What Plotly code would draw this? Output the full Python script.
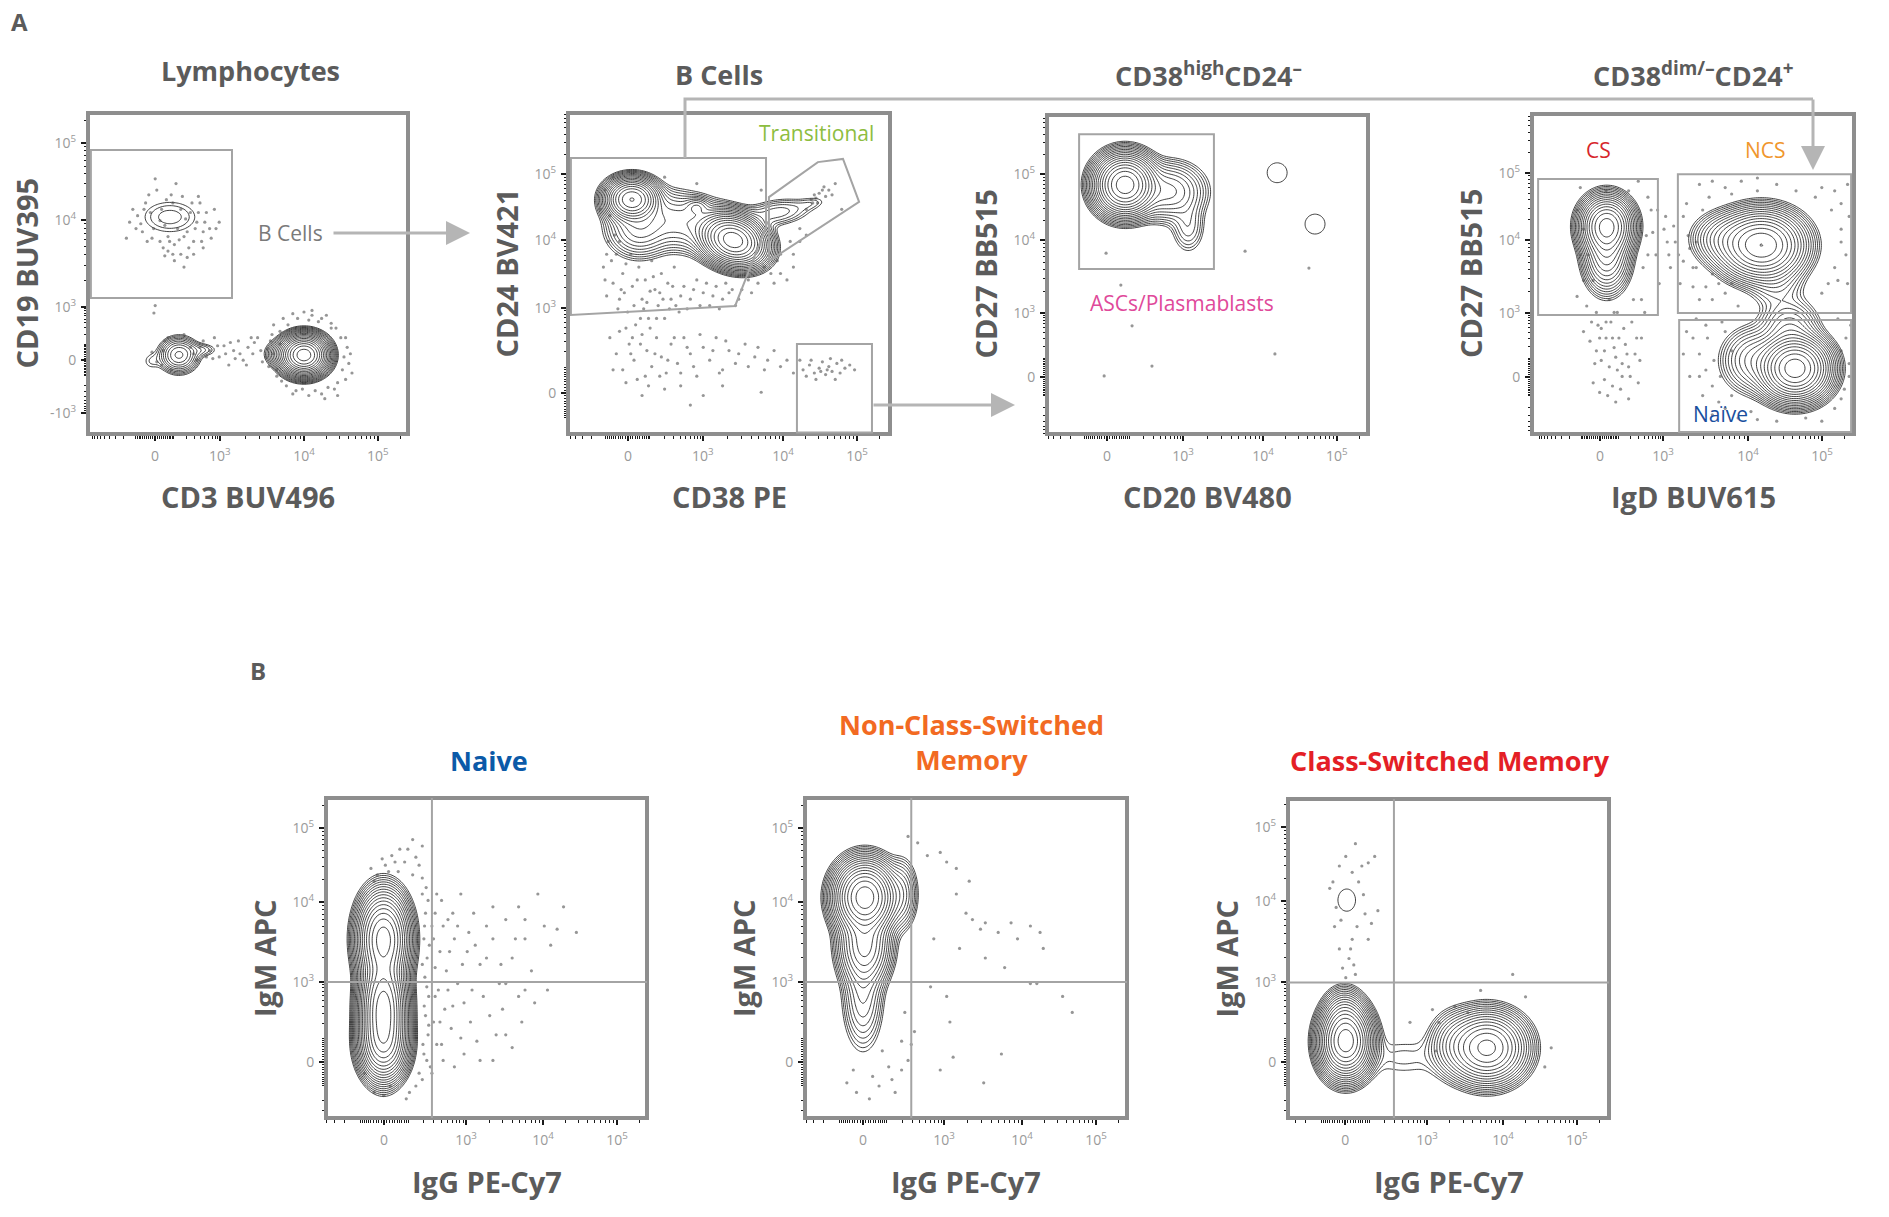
import numpy as np
import plotly.graph_objects as go

W, H = 1889, 1217

# ---------------- data (all in display channels 0..1000 of each axis) ----------------
TICK_LABELS = ["0", "10<sup>3</sup>", "10<sup>4</sup>", "10<sup>5</sup>"]
TICK_LABELS_NEG = ["-10<sup>3</sup>", "0", "10<sup>3</sup>", "10<sup>4</sup>", "10<sup>5</sup>"]

A1_X_TICKS = [209, 412, 675, 906]
A1_Y_TICKS = [65, 231, 396, 667, 906]
A2_X_TICKS = [186, 419, 668, 898]
A2_Y_TICKS = [128, 393, 604, 810]
A3_X_TICKS = [187, 424, 673, 903]
A3_Y_TICKS = [179, 379, 608, 815]
A4_X_TICKS = [211, 407, 671, 901]
A4_Y_TICKS = [178, 378, 606, 816]
B1_X_TICKS = [181, 436, 676, 907]
B1_Y_TICKS = [175, 425, 675, 906]
B2_X_TICKS = [180, 432, 674, 904]
B2_Y_TICKS = [175, 425, 675, 906]
B3_X_TICKS = [178, 433, 670, 900]
B3_Y_TICKS = [176, 426, 680, 912]

# populations: (center x, center y, spread x, spread y, correlation, relative peak density)
A1_POPS = [(675, 246, 33, 28, 0.0, 1.0), (610, 250, 30, 22, 0.0, 0.03),
           (284, 246, 30, 27, 0.0, 0.08), (355, 262, 30, 13, 0.0, 0.012),
           (197, 227, 20, 20, 0.0, 0.0066), (256, 676, 63, 37, 0.0, 0.0107)]
A2_POPS = [(198, 731, 37, 30, 0.0, 0.6), (513, 604, 45, 36, -0.2, 1.0),
           (360, 660, 90, 50, -0.3, 0.05), (400, 708, 20, 15, 0.0, 0.035),
           (220, 640, 50, 45, 0.0, 0.06), (650, 690, 60, 25, 0.3, 0.02),
           (760, 720, 30, 14, 0.3, 0.006)]
A3_POPS = [(243, 781, 42, 42, 0.0, 1.0), (380, 760, 55, 45, 0.0, 0.08),
           (440, 650, 28, 45, 0.0, 0.02), (717, 819, 42, 42, 0.0, 0.0066),
           (835, 658, 42, 42, 0.0, 0.0066)]
A4_POPS = [(232, 650, 37, 42, 0.0, 0.5), (232, 560, 34, 55, 0.0, 0.15),
           (713, 590, 60, 48, 0.0, 0.6), (600, 610, 50, 40, 0.0, 0.06),
           (760, 470, 45, 45, 0.0, 0.02), (800, 330, 45, 45, 0.0, 0.05),
           (817, 205, 48, 44, 0.0, 1.0), (690, 230, 50, 50, 0.0, 0.06)]
B1_POPS = [(179, 560, 36, 65, 0.0, 0.7), (179, 340, 32, 80, 0.0, 1.0),
           (179, 230, 34, 50, 0.0, 0.4)]
B2_POPS = [(186, 690, 42, 50, 0.0, 1.0), (185, 540, 38, 60, 0.0, 0.2),
           (180, 380, 32, 85, 0.0, 0.04), (300, 700, 25, 55, 0.0, 0.04)]
B3_POPS = [(180, 240, 36, 50, 0.0, 1.0), (175, 320, 30, 40, 0.0, 0.1),
           (620, 220, 55, 50, 0.0, 0.5), (520, 230, 40, 50, 0.0, 0.05),
           (360, 190, 90, 45, 0.0, 0.0075), (183, 683, 37, 47, 0.0, 0.0066)]

# individual events drawn as dots
A1_EVENTS = [(140,700),(165,655),(180,720),(195,690),(205,640),(215,760),(225,600),(230,700),(240,650),
             (250,615),(260,745),(270,590),(280,640),(290,700),(300,615),(305,670),(315,580),(325,720),
             (335,640),(345,690),(355,600),(365,660),(380,640),(395,700),(410,660),(270,540),(290,560),
             (250,570),(300,520),(120,610),(210,795),(275,780),(185,600),(345,740),(225,665),
             (155,680),(170,630),(190,745),(200,610),(235,580),(245,730),(255,600),(265,720),(285,605),
             (295,740),(310,630),(320,690),(330,600),(340,660),(350,720),(360,630),(370,690),(385,610),
             (400,640),(175,700),(265,560),(240,555),(310,550),(330,560),(360,580),(150,640),(130,660),
             (200,255),(215,225),(240,290),(320,270),(340,230),(360,290),(380,260),(395,300),(410,240),
             (425,275),(440,215),(455,260),(470,290),(485,230),(500,270),(515,250),(530,300),(545,225),
             (560,265),(575,310),(590,200),(600,280),(330,250),(390,235),(430,250),(460,235),(520,285),
             (350,270),(370,240),(405,275),(445,285),(475,250),(495,215),(510,300),(540,260),(555,240),
             (230,215),(250,300),(260,200),(300,310),(235,260),
             (580,340),(610,360),(640,375),(700,370),(730,360),(760,345),(790,300),(800,240),(795,200),
             (780,160),(750,145),(710,135),(670,140),(620,150),(590,180),(565,210),(780,120),(640,125),
             (720,350),(810,270),(206,377),(210,400),(675,380),(760,330),(600,320),(625,340),(655,360),
             (690,355),(745,370),(775,330),(805,300),(815,220),(805,170),(770,140),(730,125),(690,120),
             (650,135),(605,165),(580,250),(570,290),(820,250),(825,190),(700,385),(740,110)]
A2_EVENTS = [(110,520),(125,600),(140,470),(150,560),(160,420),(170,500),(185,380),(195,560),(200,460),
             (210,340),(220,520),(230,420),(240,480),(250,360),(260,540),(270,450),(280,400),(290,500),
             (300,360),(310,470),(320,420),(330,520),(345,380),(360,460),(380,420),(400,480),(420,440),
             (440,400),(460,460),(480,420),(500,440),(520,400),(540,450),(560,480),(130,680),(115,760),
             (140,800),(190,820),(300,800),(400,780),(600,760),(120,430),(165,450),(235,390),(255,445),
             (115,480),(135,540),(145,620),(155,390),(175,440),(180,530),(205,400),(215,480),(225,360),
             (245,410),(265,490),(275,360),(285,440),(295,420),(315,390),(325,460),(335,400),(350,430),
             (370,390),(390,450),(410,400),(430,470),(450,430),(470,390),(490,470),(510,450),(530,420),
             (550,500),(570,440),(590,470),(610,520),(630,500),(650,540),(120,560),(160,600),(100,700),
             (130,300),(150,250),(170,200),(190,280),(205,230),(215,170),(230,310),(245,260),(260,210),
             (275,300),(290,240),(305,190),(320,280),(340,220),(360,300),(380,250),(400,180),(420,270),
             (440,230),(460,300),(480,200),(500,260),(520,220),(550,280),(580,240),(610,200),(640,260),
             (680,230),(700,190),(230,120),(300,140),(420,120),(600,130),(380,90),(180,330),(200,300),
             (160,320),(195,250),(225,280),(240,180),(255,330),(270,250),(285,180),(310,230),(330,300),
             (350,190),(370,270),(390,210),(410,310),(450,260),(470,190),(490,290),(530,250),(560,210),
             (590,270),(620,230),(660,210),(720,230),(140,200),(180,160),(250,150),(350,150),(480,150),
             (730,200),(750,215),(765,190),(780,205),(790,225),(800,185),(810,210),(820,195),(835,220),
             (845,190),(860,205),(875,215),(890,200),(770,170),(830,170),(740,180),(785,195),(815,235),
             (850,230),(805,200),(755,230),
             (660,560),(690,600),(720,640),(740,700),(755,730),(765,745),(775,720),(790,760),(800,740),
             (820,745),(850,700),(700,520),(680,480),(640,470),(770,735),(780,750),(760,720),(795,770),
             (810,760),(830,780),(700,560),(720,600),(740,620),(660,500)]
A3_EVENTS = [(184,567),(617,573),(816,520),(230,467),(265,339),(710,251),(327,213),(178,182)]
A4_EVENTS = [(140,700),(160,640),(175,560),(190,480),(200,380),(210,300),(215,230),(225,170),(235,120),
             (245,350),(255,270),(265,200),(275,140),(285,330),(295,250),(305,180),(315,420),(325,300),
             (335,230),(345,520),(355,620),(370,700),(385,560),(395,470),(410,640),(180,290),(195,220),
             (240,420),(260,100),(300,110),(330,160),(350,380),(160,320),(230,760),(300,760),(140,430),
             (205,340),(250,300),(280,220),(310,350),(225,260),(265,380),(170,400),(185,350),(200,260),
             (215,330),(230,300),(240,210),(255,380),(270,300),(290,280),(300,210),(320,250),(340,300),
             (190,160),(210,130),(250,150),(280,180),(230,350),(260,240),(150,560),(160,480),(340,420),
             (360,560),(375,630),(390,700),(150,770),(330,790),(360,740),
             (420,600),(440,650),(455,560),(470,680),(485,620),(500,520),(510,600),(430,520),(460,470),
             (425,560),(445,600),(470,540),(490,580),(415,680),(480,720),
             (520,780),(560,790),(600,770),(650,790),(700,760),(760,780),(820,760),(880,740),(930,700),
             (960,640),(975,560),(950,480),(900,440),(560,500),(520,420),(600,440),(640,400),(540,460),
             (980,780),(700,800),(530,700),(550,740),(620,750),(900,770),(940,760),(960,720),(985,680),
             (960,600),(940,520),(920,470),(980,470),(580,470),(620,470),(560,420),(500,460),(510,520),
             (500,300),(520,250),(540,200),(560,150),(580,100),(600,320),(620,260),(530,120),(560,60),
             (640,50),(700,45),(760,40),(850,50),(940,80),(970,140),(985,220),(975,300),(950,360),
             (510,360),(490,180),(470,250),(480,320),(520,180),(545,300),(565,230),(585,180),(600,80),
             (620,120),(680,70),(900,40),(960,110),(985,180),(960,260),(990,340),(540,340),(590,350)]
B1_EVENTS = [(160,760),(185,790),(205,820),(225,770),(245,800),(270,760),(290,790),(300,850),(230,840),
             (140,780),(175,810),(215,800),(255,840),(280,815),(195,770),(150,740),(270,870),
             (300,700),(310,640),(305,560),(315,500),(308,440),(320,380),(310,320),(318,260),(305,200),
             (325,160),(300,120),(330,600),(340,470),(335,300),(345,700),(300,750),(312,720),(318,680),
             (307,600),(322,540),(300,480),(314,410),(306,350),(320,290),(302,230),(314,180),(330,140),
             (280,100),(260,80),(290,140),(340,380),(340,640),(335,560),(345,230),
             (360,680),(380,620),(400,560),(420,700),(440,520),(460,640),(480,480),(500,600),(520,560),
             (540,420),(560,620),(580,500),(600,660),(620,560),(640,460),(660,700),(700,540),(720,590),
             (780,580),(350,400),(370,340),(390,280),(410,420),(430,360),(450,300),(470,240),(490,380),
             (510,320),(530,260),(550,340),(580,220),(610,300),(650,360),(690,400),(430,200),(360,230),
             (400,160),(480,180),(560,420),(600,380),(150,80),(180,70),(200,100),(250,60),(120,140),
             (355,520),(365,600),(375,460),(385,520),(395,640),(410,600),(425,480),(445,580),(465,540),
             (355,300),(365,180),(380,400),(395,350),(420,250),(455,400),(500,500),(520,660),(545,480),
             (590,560),(620,620),(680,600),(740,660),(560,260),(520,180),(620,400)]
B2_EVENTS = [(380,820),(420,830),(440,800),(470,780),(510,740),(470,700),(500,640),(520,620),(545,590),
             (560,610),(600,580),(640,610),(660,560),(700,600),(730,580),(740,530),(480,530),(560,500),
             (620,470),(700,420),(720,420),(800,380),(830,330),(400,560),(390,410),(440,380),(450,300),
             (420,150),(460,190),(610,200),(555,110),(130,110),(160,80),(200,60),(230,100),(270,120),
             (300,150),(320,180),(280,80),(240,210),(330,230),(310,330),(340,270),(300,240),(260,160),
             (210,130),(150,150),(320,880),(350,860)]
B3_EVENTS = [(140,740),(160,790),(180,820),(200,770),(210,860),(230,790),(250,800),(270,820),(150,660),
             (165,620),(200,560),(215,600),(240,640),(260,610),(280,650),(190,500),(170,470),(205,480),
             (180,440),(130,720),(145,600),(220,740),(235,700),(160,530),(195,530),(250,560),(210,450),
             (450,340),(470,300),(520,350),(560,330),(700,450),(460,210),(820,220),(800,160),(380,300),
             (600,400),(740,380)]

# gates (channel coordinates)
A1_GATE = [(9, 885), (450, 885), (450, 424), (9, 424)]
A2_GATE_MAIN = [(9, 860), (615, 860), (615, 645), (519, 399), (9, 371)]
A2_GATE_TRANS = [(624, 539), (624, 738), (776, 847), (854, 857), (904, 723)]
A2_GATE_PB = [(711, 280), (944, 280), (944, 5), (711, 5)]
A3_GATE = [(100, 940), (520, 940), (520, 517), (100, 517)]
A4_GATE_CS = [(19, 797), (391, 797), (391, 372), (19, 372)]
A4_GATE_NCS = [(453, 812), (991, 812), (991, 378), (453, 378)]
A4_GATE_NAIVE = [(457, 356), (991, 356), (991, 6), (457, 6)]
QUAD_X = 330
QUAD_Y = 425

PANEL_TITLES = ["Lymphocytes", "B Cells", "CD38<sup>high</sup>CD24<sup>–</sup>",
                "CD38<sup>dim/–</sup>CD24<sup>+</sup>"]
X_TITLES = ["CD3 BUV496", "CD38 PE", "CD20 BV480", "IgD BUV615",
            "IgG PE-Cy7", "IgG PE-Cy7", "IgG PE-Cy7"]
Y_TITLES = ["CD19 BUV395", "CD24 BV421", "CD27 BB515", "CD27 BB515",
            "IgM APC", "IgM APC", "IgM APC"]
B_TITLES = ["Naive", "Non-Class-Switched<br>Memory", "Class-Switched Memory"]

# ---------------- layout constants (pixel boxes) ----------------
BOXES = [(88, 113, 408, 434), (568, 113, 890, 434), (1047, 115, 1368, 434), (1532, 114, 1854, 434),
         (326, 798, 647, 1118), (805, 798, 1127, 1118), (1288, 799, 1609, 1118)]
PANELS = [
    (A1_X_TICKS, A1_Y_TICKS, A1_POPS, A1_EVENTS),
    (A2_X_TICKS, A2_Y_TICKS, A2_POPS, A2_EVENTS),
    (A3_X_TICKS, A3_Y_TICKS, A3_POPS, A3_EVENTS),
    (A4_X_TICKS, A4_Y_TICKS, A4_POPS, A4_EVENTS),
    (B1_X_TICKS, B1_Y_TICKS, B1_POPS, B1_EVENTS),
    (B2_X_TICKS, B2_Y_TICKS, B2_POPS, B2_EVENTS),
    (B3_X_TICKS, B3_Y_TICKS, B3_POPS, B3_EVENTS),
]

FONT = "Open Sans"
TXT = "#5b5b5b"
GATE_C = "#a4a4a4"
LINK_C = "#b5b5b5"


def px(x):
    return x / W


def py(y):
    return 1 - y / H


def minor_ticks(t):
    """Biexponential-like minor tick positions from the labelled anchors."""
    if len(t) == 5:
        t = t[1:]
    t0, t3, t4, t5 = t
    vals = []
    c = 100.0
    norm = np.arcsinh(1000 / c)
    for v in list(range(10, 100, 10)) + list(range(100, 1000, 100)):
        f = np.arcsinh(v / c) / norm
        vals += [t0 + (t3 - t0) * f, t0 - (t3 - t0) * f]
    for a, b in [(t3, t4), (t4, t5), (t5, t5 + (t5 - t4))]:
        for k in range(2, 10):
            vals.append(a + (b - a) * np.log10(k))
    return [float(v) for v in vals if 2 < v < 998]


def density(pops, n=181):
    g = np.linspace(0, 1000, n)
    X, Y = np.meshgrid(g, g)
    Z = np.zeros_like(X)
    for cx, cy, sx, sy, rho, p in pops:
        dx = (X - cx) / sx
        dy = (Y - cy) / sy
        q = (dx * dx - 2 * rho * dx * dy + dy * dy) / (1 - rho * rho)
        Z += p * np.exp(-0.5 * q)
    return g, np.round(np.log10(np.maximum(Z, 1e-6)), 3)


def note(text, x, y, size, color, bold=False, angle=0):
    f = dict(family=FONT, size=size, color=color)
    if bold:
        f["weight"] = "bold"
    return dict(text=text, xref="paper", yref="paper", x=px(x), y=py(y), showarrow=False,
                xanchor="center", yanchor="middle", textangle=angle, font=f)


fig = go.Figure()
layout = dict(width=W, height=H, margin=dict(l=0, r=0, t=0, b=0), autosize=False,
              paper_bgcolor="white", plot_bgcolor="white", showlegend=False)
shapes = []
annotations = []

for i, ((xt, yt, pops, events), (L, T, R, B)) in enumerate(zip(PANELS, BOXES), start=1):
    xs = "" if i == 1 else str(i)
    xname, yname = "x" + xs, "y" + xs
    ylabels = TICK_LABELS_NEG if len(yt) == 5 else TICK_LABELS
    common = dict(range=[0, 1000], tickmode="array", ticks="outside", ticklen=6, tickwidth=2,
                  tickcolor="#1a1a1a", showgrid=False, zeroline=False, showline=False, fixedrange=True,
                  tickfont=dict(family=FONT, size=14, color="#9a9a9a"))
    layout["xaxis" + xs] = dict(domain=[px(L), px(R)], anchor=yname, tickvals=xt, ticktext=TICK_LABELS,
                                minor=dict(ticks="outside", tickmode="array", tickvals=minor_ticks(xt),
                                           ticklen=3.5, tickwidth=1.2, tickcolor="#1a1a1a"),
                                ticklabelstandoff=3, **common)
    layout["yaxis" + xs] = dict(domain=[py(B), py(T)], anchor=xname, tickvals=yt, ticktext=ylabels,
                                minor=dict(ticks="outside", tickmode="array", tickvals=minor_ticks(yt),
                                           ticklen=3.5, tickwidth=1.2, tickcolor="#1a1a1a"),
                                ticklabelstandoff=2, **common)
    ex = [e[0] for e in events]
    ey = [e[1] for e in events]
    fig.add_trace(go.Scatter(x=ex, y=ey, mode="markers", xaxis=xname, yaxis=yname,
                             marker=dict(size=3.2, color="rgba(80,80,80,0.6)"), hoverinfo="skip"))
    g, Z = density(pops)
    fig.add_trace(go.Contour(x=g, y=g, z=Z, xaxis=xname, yaxis=yname, showscale=False,
                             colorscale=[[0, "#111"], [1, "#111"]], hoverinfo="skip",
                             contours=dict(coloring="lines", start=-2.3, end=-0.05, size=0.13),
                             line=dict(width=0.8, smoothing=1.0)))
    shapes.append(dict(type="rect", xref=xname + " domain", yref=yname + " domain", x0=0, x1=1, y0=0, y1=1,
                       line=dict(color="#8e8e8e", width=4), layer="above"))
    annotations.append(note(X_TITLES[i - 1], (L + R) / 2, B + 63, 29, TXT, bold=True))
    annotations.append(note(Y_TITLES[i - 1], L - 62, (T + B) / 2, 29, TXT, bold=True, angle=-90))


def poly_path(pts):
    return "M " + " L ".join(f"{x},{y}" for x, y in pts) + " Z"


def add_gate(pts, i):
    xs = "" if i == 1 else str(i)
    shapes.append(dict(type="path", path=poly_path(pts), xref="x" + xs, yref="y" + xs,
                       line=dict(color=GATE_C, width=2), layer="above"))


add_gate(A1_GATE, 1)
add_gate(A2_GATE_MAIN, 2)
add_gate(A2_GATE_TRANS, 2)
add_gate(A2_GATE_PB, 2)
add_gate(A3_GATE, 3)
add_gate(A4_GATE_CS, 4)
add_gate(A4_GATE_NCS, 4)
add_gate(A4_GATE_NAIVE, 4)
for i in (5, 6, 7):
    s = str(i)
    shapes.append(dict(type="line", xref="x" + s, yref="y" + s, x0=QUAD_X, x1=QUAD_X, y0=0, y1=1000,
                       line=dict(color=GATE_C, width=2), layer="above"))
    shapes.append(dict(type="line", xref="x" + s, yref="y" + s, x0=0, x1=1000, y0=QUAD_Y, y1=QUAD_Y,
                       line=dict(color=GATE_C, width=2), layer="above"))

for t, (cx, cy) in zip(PANEL_TITLES, [(250, 71), (719, 75), (1208, 75), (1693, 75)]):
    annotations.append(note(t, cx, cy, 27, TXT, bold=True))
for t, (cx, cy), col in zip(B_TITLES, [(489, 760), (971, 742), (1450, 760)],
                            ["#0b5aa8", "#f26a22", "#e41f26"]):
    annotations.append(note(t, cx, cy, 27, col, bold=True))
annotations.append(note("A", 19, 22, 24, TXT, bold=True))
annotations.append(note("B", 258, 670, 24, TXT, bold=True))
for t, (cx, cy), col in [("B Cells", (290, 233), "#7a7a7a"), ("Transitional", (816, 133), "#8dbd3f"),
                         ("ASCs/Plasmablasts", (1182, 303), "#e0499a"), ("CS", (1598, 150), "#d7262c"),
                         ("NCS", (1765, 150), "#f0962c"), ("Naïve", (1720, 414), "#1a4f9e")]:
    annotations.append(note(t, cx, cy, 21, col))

shapes.append(dict(type="path", xref="paper", yref="paper",
                   path=f"M {px(685)},{py(158)} L {px(685)},{py(99)} L {px(1813)},{py(99)}",
                   line=dict(color=LINK_C, width=3), layer="above"))
for tip, off in [((470, 233), (-138, 0)), ((1015, 405), (-143, 0)), ((1813, 170), (0, -72))]:
    annotations.append(dict(text="", xref="paper", yref="paper", x=px(tip[0]), y=py(tip[1]),
                            ax=off[0], ay=off[1], showarrow=True, arrowhead=2, arrowsize=1.6,
                            arrowwidth=3, arrowcolor=LINK_C, standoff=0))

layout["shapes"] = shapes
layout["annotations"] = annotations
fig.update_layout(**layout)
fig.write_html("out.html", config={"displayModeBar": False},
               post_script="document.body.style.margin='0';document.body.style.overflow='hidden';")
